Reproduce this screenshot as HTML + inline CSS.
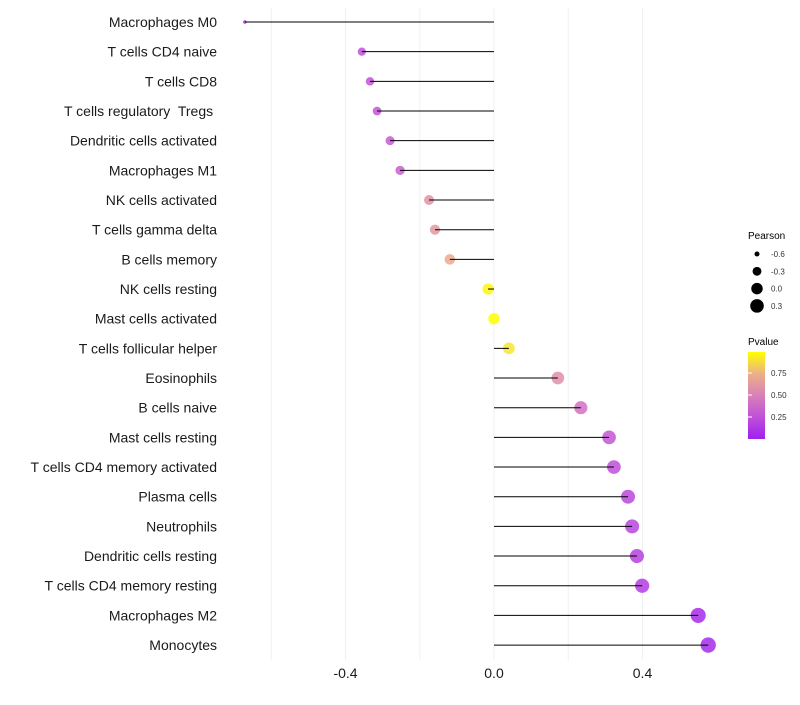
<!DOCTYPE html>
<html><head><meta charset="utf-8"><style>
body{margin:0;background:#fff;font-family:"Liberation Sans",sans-serif}
svg text{font-family:"Liberation Sans",sans-serif;white-space:pre}
</style></head><body>
<svg id="c" width="800" height="700">
<defs><linearGradient id="pg" x1="0" y1="1" x2="0" y2="0">
<stop offset="0" stop-color="#a020f0"/><stop offset="0.25" stop-color="#c050d8"/>
<stop offset="0.5" stop-color="#d880b8"/><stop offset="0.75" stop-color="#ecb088"/>
<stop offset="1" stop-color="#ffff00"/></linearGradient></defs>
<g id="grid"></g>
<g id="marks"></g>
<g id="labels"></g>
<g id="xt"></g>
<g>
<text x="748" y="239" font-size="10">Pearson</text>
<g id="sl"></g></g>
<g>
<text x="748" y="345" font-size="10">Pvalue</text>
<rect x="748" y="352" width="17" height="87" fill="url(#pg)"/>
<g id="cl"></g></g>
</svg>
<script>
const categories=["Macrophages M0","T cells CD4 naive","T cells CD8","T cells regulatory  Tregs ","Dendritic cells activated","Macrophages M1","NK cells activated","T cells gamma delta","B cells memory","NK cells resting","Mast cells activated","T cells follicular helper","Eosinophils","B cells naive","Mast cells resting","T cells CD4 memory activated","Plasma cells","Neutrophils","Dendritic cells resting","T cells CD4 memory resting","Macrophages M2","Monocytes"];
const pearson=[-0.671,-0.356,-0.334,-0.315,-0.28,-0.253,-0.175,-0.159,-0.119,-0.016,0.0,0.04,0.172,0.234,0.31,0.323,0.361,0.372,0.385,0.399,0.55,0.577];
const pvalues=[0.05,0.25,0.26,0.27,0.3,0.33,0.6,0.62,0.72,0.97,1.0,0.92,0.58,0.42,0.28,0.24,0.2,0.19,0.17,0.15,0.06,0.05];
const xTicks=[-0.4,0.0,0.4];
const gridVals=[-0.6,-0.4,-0.2,0,0.2,0.4];
const sizeLegend=[-0.6,-0.3,0.0,0.3];
const colorLegend=[0.25,0.5,0.75];
const NS="http://www.w3.org/2000/svg";
const X=v=>494+v*371.25;
const Y=i=>22+i*29.67;
const R=v=>Math.sqrt(Math.max(2,32.8+44.2*v));
const stops=[[0,[160,32,240]],[0.25,[192,80,216]],[0.5,[216,128,184]],[0.75,[236,176,136]],[1,[255,255,0]]];
function col(p){for(let i=1;i<stops.length;i++){if(p<=stops[i][0]){const a=stops[i-1],b=stops[i],t=(p-a[0])/(b[0]-a[0]);return `rgb(${a[1].map((c,k)=>Math.round(c+(b[1][k]-c)*t)).join(',')})`;}}return 'rgb(255,255,0)';}
function mk(t,a,p){const e=document.createElementNS(NS,t);for(const k in a)e.setAttribute(k,a[k]);p.appendChild(e);return e;}
const g=document.getElementById('grid');
gridVals.forEach(v=>{const l=mk('line',{x1:X(v),x2:X(v),y1:8,y2:660,stroke:'#f0f0f0','stroke-width':1},g);

});
const m=document.getElementById('marks'),lb=document.getElementById('labels');
categories.forEach((c,i)=>{const v=pearson[i];
const d=mk('circle',{cx:X(v),cy:Y(i),r:R(v),fill:col(pvalues[i]),'fill-opacity':0.85},m);


const s=mk('line',{x1:X(0),x2:X(v),y1:Y(i),y2:Y(i),stroke:'#000','stroke-width':1},m);


const t=mk('text',{x:217,y:Y(i)+5,'font-size':14,'text-anchor':'end',fill:'#1a1a1a'},lb);t.textContent=c;

});
const xt=document.getElementById('xt');
xTicks.forEach(v=>{const t=mk('text',{x:X(v),y:678,'font-size':14,'text-anchor':'middle',fill:'#1a1a1a'},xt);t.textContent=v.toFixed(1);

});
const sl=document.getElementById('sl');
sizeLegend.forEach((v,i)=>{const cy=254+i*17.3;
const c=mk('circle',{cx:757,cy:cy,r:R(v),fill:'#000'},sl);


const t=mk('text',{x:771,y:cy+3,'font-size':8,fill:'#333'},sl);t.textContent=v.toFixed(1);

});
const cl=document.getElementById('cl');
colorLegend.forEach(p=>{const y=439-p*88;
const l=mk('line',{x1:748,x2:752,y1:y,y2:y,stroke:'#fff','stroke-width':1},cl);


const t=mk('text',{x:771,y:y+3,'font-size':8,fill:'#333'},cl);t.textContent=p.toFixed(2);

});
</script>
</body></html>
